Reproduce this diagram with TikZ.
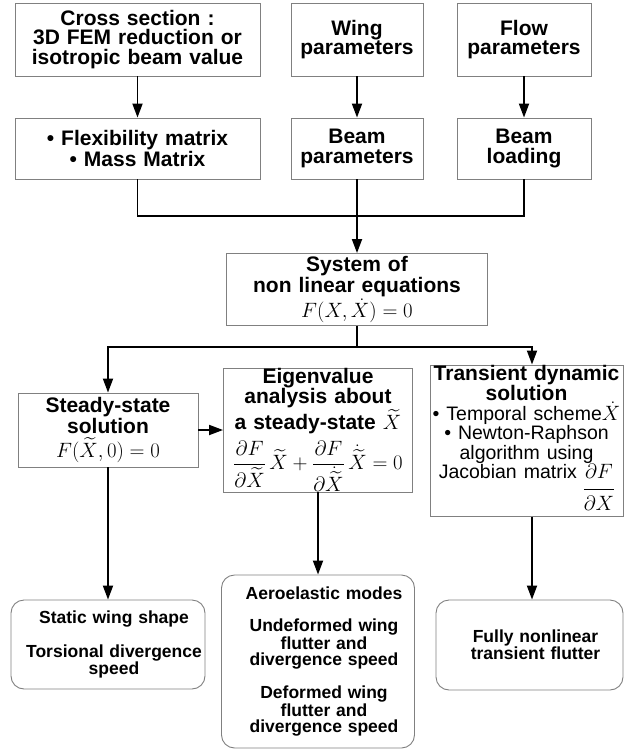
\documentclass[tikz,border=0pt]{standalone}
\usepackage{fontspec}
\setmainfont{Liberation Sans}
\usepackage{amsmath}
\usetikzlibrary{arrows.meta}
\thickmuskip=5mu
\medmuskip=4mu
\newcommand{\eqsize}{\mdseries\fontsize{22}{20}\selectfont}

\begin{document}
\begin{tikzpicture}[x=1pt,y=-1pt,
  box/.style={draw=gray,line width=0.9pt,fill=white,align=center,inner sep=0pt,
    font=\bfseries\fontsize{21}{19.5}\selectfont},
  dims/.style 2 args={text width=#1pt,minimum height=#2pt},
  result/.style={box,rounded corners=13pt,font=\bfseries\fontsize{17.5}{16}\selectfont,
    execute at begin node={\hyphenpenalty=10000\advance\leftskip by 12pt}},
  wire/.style={line width=1.8pt},
  feed/.style={wire,-{Triangle[length=14pt,width=10pt]}}]
\useasboundingbox (0,0) rectangle (624,749);

\node[box,dims={245}{73}] (cross) at (137.5,39.5) {Cross section :\\ 3D FEM reduction or\\ isotropic beam value};
\node[box,dims={132}{73}] (wing) at (357,39.5) {Wing\\ parameters};
\node[box,dims={134}{73}] (flowpar) at (524,39.5) {Flow\\ parameters};
\node[box,dims={245}{61}] (flex) at (137.5,148.5) {\textbullet\ Flexibility matrix\\ \textbullet\ Mass Matrix};
\node[box,dims={132}{61}] (beam) at (357,148.5) {Beam\\ parameters};
\node[box,dims={134}{61}] (load) at (524,148.5) {Beam\\ loading};

\node[box,dims={261}{72}] (sys) at (357,289.5) {System of\\ non linear equations\\[1pt] {\eqsize $F(X,\dot X)=0$}};

\node[box,dims={180}{74}] (steady) at (108,430) {Steady-state\\ solution\\[3pt] {\eqsize $F(\widetilde X,0)=0$}};
\node[box,dims={189}{124}] (eigen) at (318,430) {Eigenvalue\\ analysis about\\ a steady-state {\eqsize$\widetilde X$}\\[6pt]
  {\eqsize $\displaystyle\frac{\partial F}{\partial\widetilde X}\,\widetilde X+\frac{\partial F}{\partial\dot{\widetilde X}}\,\dot{\widetilde X}=0$}};
\node[box,dims={193}{145}] (trans) at (526.5,440.5) {Transient dynamic\\ solution\\
  {\mdseries\fontsize{19.5}{17.5}\selectfont \textbullet\ Temporal scheme{\eqsize$\dot X$}\\ \textbullet\ Newton-Raphson\\ algorithm using\\
  Jacobian matrix {\eqsize$\begin{array}[t]{@{}c@{}}\partial F\\[4pt]\hline\rule{0pt}{21pt}\partial X\end{array}$}}};

\node[result,dims={194}{89}] (static) at (108,644.5) {Static wing shape\\[16pt] \mbox{Torsional divergence}\\ speed};
\node[result,dims={193}{173}] (aero) at (318,661.5) {Aeroelastic modes\\[16pt] Undeformed wing\\ flutter and\\ divergence speed\\[16pt]
  Deformed wing\\ flutter and\\ divergence speed};
\node[result,dims={187}{90}] (fully) at (529.5,645) {Fully nonlinear\\ transient flutter};

\foreach \a/\b in {cross/flex,wing/beam,flowpar/load}{
  \draw[feed] (\a) -- (\b);
}
\coordinate (join) at (357,216);
\draw[wire] (flex) -- (flex |- join) -- (load |- join) -- (load);
\draw[feed] (beam) -- (sys);

\coordinate (split) at (357,347);
\draw[wire] (sys) -- (split);
\draw[feed] (split) -| (steady);
\draw[feed] (split) -| ([xshift=5.5pt]trans.north);
\draw[feed] (steady) -- (eigen);
\draw[feed] (steady) -- (static);
\draw[feed] (eigen) -- (aero);
\draw[feed] ([xshift=5.5pt]trans.south) -- ([xshift=5.5pt]trans.south |- fully.north);
\end{tikzpicture}
\end{document}
